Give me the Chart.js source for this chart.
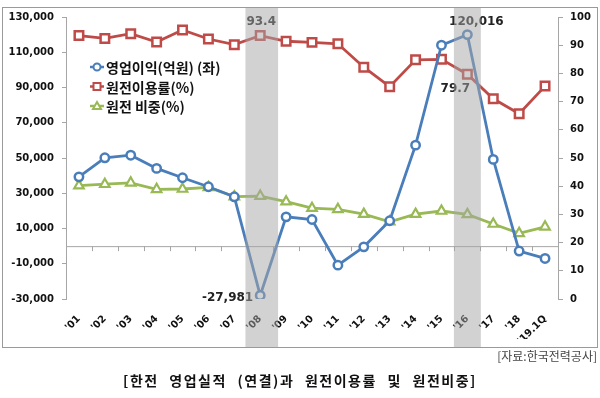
<!DOCTYPE html>
<html>
<head>
<meta charset="utf-8">
<script src="https://cdn.jsdelivr.net/npm/chart.js@4/dist/chart.umd.min.js"></script>
<style>
  body { margin: 0; background: #fff; }
  #wrap { position: relative; width: 600px; height: 398px; }
  #frame { position: absolute; left: 2px; top: 7px; width: 596px; height: 341px; border: 1px solid #9a9a9a; box-sizing: border-box; }
  #grafico { position: absolute; left: 0; top: 0; }
  #fonte { position: absolute; right: 3px; top: 347px; font: 12px "Noto Sans CJK KR", sans-serif; color: #444; }
  #titulo { position: absolute; left: 0; width: 600px; top: 370px; text-align: center; font: bold 14px "Noto Sans CJK KR", sans-serif; letter-spacing: 1.5px; word-spacing: 6px; color: #111; }
</style>
</head>
<body>
<div id="wrap">
  <div id="frame"></div>
  <canvas id="grafico" width="600" height="398"></canvas>
  <div id="fonte">[자료:한국전력공사]</div>
  <div id="titulo">[한전 영업실적 (연결)과 원전이용률 및 원전비중]</div>
</div>
<script>
const anos = ["'01", "'02", "'03", "'04", "'05", "'06", "'07", "'08", "'09", "'10",
              "'11", "'12", "'13", "'14", "'15", "'16", "'17", "'18", "'19.1Q"];
const lucro = [39300, 50100, 51600, 44100, 38800, 33700, 28000, -27981, 16600, 15100,
               -10800, -400, 14400, 57300, 114000, 120016, 49200, -2800, -7000];
const utilizacao = [93.4, 92.4, 94.1, 91.1, 95.4, 92.2, 90.2, 93.4, 91.4, 91.0,
                    90.5, 82.2, 75.3, 84.8, 85.0, 79.7, 71.0, 65.7, 75.5];
const participacao = [40.2, 40.7, 41.2, 38.9, 39.0, 39.6, 36.3, 36.5, 34.5, 32.2,
                      31.8, 30.1, 27.4, 30.1, 31.2, 30.0, 26.6, 23.3, 25.6];
const ticksEsq = [-30000, -10000, 10000, 30000, 50000, 70000, 90000, 110000, 130000];
const ticksDir = [0, 10, 20, 30, 40, 50, 60, 70, 80, 90, 100];
const destaques = [7, 15]; // anos sombreados

const fmt = (v) => v.toLocaleString('en-US');

// linha do zero, faixas cinzas, rótulos e legenda
const extras = {
    id: 'extras',
    beforeDatasetsDraw(chart) {
        const { ctx, chartArea: a, scales } = chart;
        const y0 = scales.y.getPixelForValue(0);
        const passo = (a.right - a.left) / anos.length;
        ctx.save();
        ctx.strokeStyle = '#a6a6a6';
        ctx.lineWidth = 1;
        ctx.beginPath();
        ctx.moveTo(a.left, y0 + 0.5);
        ctx.lineTo(a.right, y0 + 0.5);
        for (let i = 1; i < anos.length; i++) {
            const x = Math.round(a.left + i * passo) + 0.5;
            ctx.moveTo(x, y0);
            ctx.lineTo(x, y0 + 5);
        }
        ctx.stroke();
        ctx.restore();
    },
    afterDraw(chart) {
        const { ctx, scales } = chart;
        const x = (i) => scales.x.getPixelForValue(i);
        ctx.save();
        ctx.font = 'bold 12px "DejaVu Sans", sans-serif';
        ctx.fillStyle = '#222';
        ctx.textBaseline = 'middle';
        ctx.textAlign = 'center';
        ctx.fillText(utilizacao[7].toFixed(1), x(7) + 1, scales.y1.getPixelForValue(utilizacao[7]) - 14);
        ctx.fillText(fmt(lucro[15]), x(15) + 9, scales.y.getPixelForValue(lucro[15]) - 13);
        ctx.fillText(utilizacao[15].toFixed(1), x(15) - 12, scales.y1.getPixelForValue(utilizacao[15]) + 15);
        ctx.textAlign = 'right';
        ctx.fillText(fmt(lucro[7]), x(7) - 7, scales.y.getPixelForValue(lucro[7]) + 2);

        // legenda
        ctx.font = 'bold 14px "Noto Sans CJK KR", sans-serif';
        ctx.textAlign = 'left';
        chart.data.datasets.forEach((ds, i) => {
            const ly = 67 + i * 19.5;
            ctx.strokeStyle = ds.borderColor;
            ctx.lineWidth = 2.5;
            ctx.beginPath();
            ctx.moveTo(90, ly);
            ctx.lineTo(104, ly);
            ctx.stroke();
            ctx.fillStyle = '#fff';
            ctx.lineWidth = 2;
            ctx.beginPath();
            if (ds.pointStyle === 'circle') {
                ctx.arc(97, ly, 3.5, 0, Math.PI * 2);
            } else if (ds.pointStyle === 'rect') {
                ctx.rect(93.5, ly - 3.5, 7, 7);
            } else {
                ctx.moveTo(97, ly - 4);
                ctx.lineTo(101, ly + 3);
                ctx.lineTo(93, ly + 3);
                ctx.closePath();
            }
            ctx.fill();
            ctx.stroke();
            ctx.fillStyle = '#111';
            ctx.fillText(ds.label, 106, ly + 1);
        });

        // faixas cinzas por cima de tudo
        const passo = scales.x.getPixelForValue(1) - scales.x.getPixelForValue(0);
        const larg = [[-0.57, 0.69], [-0.52, 0.52]];
        ctx.fillStyle = 'rgba(165,165,165,0.5)';
        destaques.forEach((i, k) => {
            const x0 = x(i) + larg[k][0] * passo;
            const x1 = x(i) + larg[k][1] * passo;
            ctx.fillRect(x0, 8, x1 - x0, 339);
        });
        ctx.restore();
    }
};

new Chart(document.getElementById('grafico'), {
    type: 'line',
    data: {
        labels: anos,
        datasets: [{
            label: '영업이익(억원) (좌)',
            data: lucro,
            yAxisID: 'y',
            borderColor: '#4a7ebb',
            backgroundColor: '#fff',
            borderWidth: 2.8,
            pointStyle: 'circle',
            pointRadius: 4.2,
            pointBorderWidth: 2.5
        }, {
            label: '원전이용률(%)',
            data: utilizacao,
            yAxisID: 'y1',
            borderColor: '#be4b48',
            backgroundColor: '#fff',
            borderWidth: 2.8,
            pointStyle: 'rect',
            pointRadius: 6,
            pointBorderWidth: 2.5
        }, {
            label: '원전 비중(%)',
            data: participacao,
            yAxisID: 'y1',
            borderColor: '#98b954',
            backgroundColor: '#fff',
            borderWidth: 2.8,
            pointStyle: 'triangle',
            pointRadius: 5.5,
            pointBorderWidth: 2.2
        }]
    },
    options: {
        responsive: false,
        animation: false,
        events: [],
        layout: { padding: { top: 17, left: 0, right: 0, bottom: 59 } },
        plugins: {
            legend: { display: false },
            tooltip: { enabled: false },
            title: { display: false }
        },
        scales: {
            x: {
                offset: true,
                grid: { display: false },
                border: { display: false },
                ticks: {
                    minRotation: 45,
                    maxRotation: 45,
                    padding: 6,
                    color: '#111',
                    font: { family: '"DejaVu Sans", sans-serif', size: 10, weight: 'bold' }
                },
                afterFit: (s) => { s.height = 40; }
            },
            y: {
                position: 'left',
                min: -30000,
                max: 130000,
                afterBuildTicks: (s) => { s.ticks = ticksEsq.map(v => ({ value: v })); },
                grid: { drawOnChartArea: false, tickLength: 4, color: '#a6a6a6' },
                border: { color: '#a6a6a6' },
                ticks: {
                    padding: 8,
                    color: '#111',
                    font: { family: '"DejaVu Sans", sans-serif', size: 10, weight: 'bold' },
                    callback: (v) => fmt(v)
                },
                afterFit: (s) => { s.width = 66; }
            },
            y1: {
                position: 'right',
                min: 0,
                max: 100,
                afterBuildTicks: (s) => { s.ticks = ticksDir.map(v => ({ value: v })); },
                grid: { drawOnChartArea: false, tickLength: 5, color: '#a6a6a6' },
                border: { color: '#a6a6a6' },
                ticks: {
                    padding: 7,
                    color: '#111',
                    font: { family: '"DejaVu Sans", sans-serif', size: 10, weight: 'bold' }
                },
                afterFit: (s) => { s.width = 42; }
            }
        }
    },
    plugins: [extras]
});
</script>
</body>
</html>
